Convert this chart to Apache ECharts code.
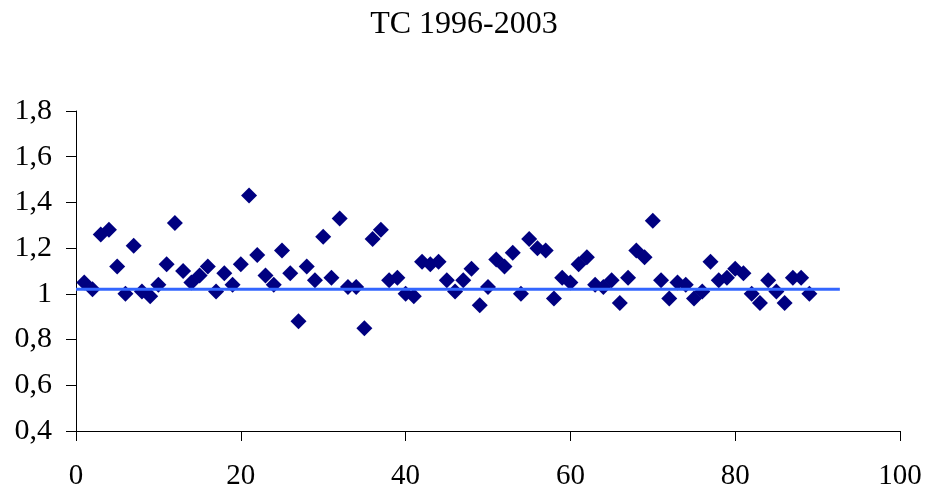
<!DOCTYPE html>
<html><head><meta charset="utf-8">
<script src="https://cdn.jsdelivr.net/npm/echarts@6/dist/echarts.min.js"></script>
<style>html,body{margin:0;padding:0;background:#fff}#c{width:928px;height:495px}</style>
</head><body><div id="c"></div>
<script>
var titleText = 'TC 1996-2003';
var xValues = [1,2,3,4,5,6,7,8,9,10,11,12,13,14,15,16,17,18,19,20,21,22,23,24,25,26,27,28,29,30,31,32,33,34,35,36,37,38,39,40,41,42,43,44,45,46,47,48,49,50,51,52,53,54,55,56,57,58,59,60,61,62,63,64,65,66,67,68,69,70,71,72,73,74,75,76,77,78,79,80,81,82,83,84,85,86,87,88,89];
var tcValues = [1.05,1.02,1.26,1.28,1.12,1.00,1.21,1.01,0.99,1.04,1.13,1.31,1.10,1.05,1.08,1.12,1.01,1.09,1.04,1.13,1.43,1.17,1.08,1.04,1.19,1.09,0.88,1.12,1.06,1.25,1.07,1.33,1.03,1.03,0.85,1.24,1.28,1.06,1.07,1.00,0.99,1.14,1.13,1.14,1.06,1.01,1.06,1.11,0.95,1.03,1.15,1.12,1.18,1.00,1.24,1.20,1.19,0.98,1.07,1.05,1.13,1.16,1.04,1.03,1.06,0.96,1.07,1.19,1.16,1.32,1.06,0.98,1.05,1.04,0.98,1.01,1.14,1.06,1.07,1.11,1.09,1.00,0.96,1.06,1.01,0.96,1.07,1.07,1.00];
var lineX = [0, 92.7];
var lineY = [1.02, 1.02];
var xTicks = [0,20,40,60,80,100];
var yTicks = ['0,4','0,6','0,8','1','1,2','1,4','1,6','1,8'];

var pts = xValues.map(function(x,i){return [x, tcValues[i]];});
var linePts = lineX.map(function(x,i){return [x, lineY[i]];});
var font = '"Liberation Serif", "Times New Roman", serif';
var chart = echarts.init(document.getElementById('c'));
chart.setOption({
  animation:false,
  backgroundColor:'#fff',
  title:{text:titleText,left:'center',top:4,textStyle:{fontFamily:font,fontSize:32,fontWeight:'normal',color:'#000'}},
  grid:{left:76,right:28,top:111,bottom:64,containLabel:false,outerBoundsMode:'none'},
  xAxis:{type:'value',min:0,max:100,interval:20,
    axisLine:{show:true,lineStyle:{color:'#000',width:1}},
    axisTick:{show:true,length:10,inside:false,lineStyle:{color:'#000'}},
    splitLine:{show:false},
    axisLabel:{margin:31,fontFamily:font,fontSize:29,color:'#000',
      formatter:function(v){return xTicks.indexOf(v)>=0?String(v):'';}}},
  yAxis:{type:'value',min:0.4,max:1.8,interval:0.2,
    axisLine:{show:true,lineStyle:{color:'#000',width:1}},
    axisTick:{show:true,length:10,inside:false,lineStyle:{color:'#000'}},
    splitLine:{show:false},
    axisLabel:{margin:24,fontFamily:font,fontSize:30,color:'#000',
      formatter:function(v){var i=Math.round((v-0.4)/0.2);return yTicks[i]!==undefined?yTicks[i]:'';}}},
  series:[
    {type:'scatter',data:pts,symbol:'diamond',symbolSize:[16,16],itemStyle:{color:'#000080',opacity:1},z:2},
    {type:'line',data:linePts,symbol:'none',lineStyle:{color:'#3366ff',width:3},z:3}
  ]
});
</script></body></html>
